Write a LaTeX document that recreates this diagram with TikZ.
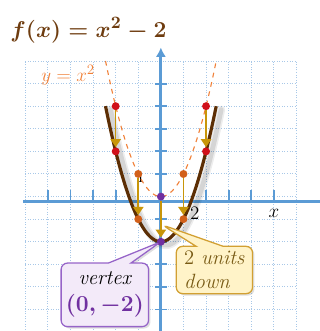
\documentclass[tikz,border=0pt]{standalone}
\usepackage{tikz}
\usetikzlibrary{arrows.meta,shapes.callouts,shadows}
\definecolor{gridblue}{RGB}{168,200,232}
\definecolor{axisblue}{RGB}{91,155,213}
\definecolor{curvebrown}{RGB}{92,46,4}
\definecolor{titlebrown}{RGB}{110,60,15}
\definecolor{dashorange}{RGB}{240,128,56}
\definecolor{dotred}{RGB}{208,16,26}
\definecolor{dotorange}{RGB}{210,96,26}
\definecolor{dotpurple}{RGB}{112,48,160}
\definecolor{shiftgold}{RGB}{200,150,10}
\definecolor{vertexfill}{RGB}{243,234,249}
\definecolor{vertexline}{RGB}{150,100,200}
\definecolor{notefill}{RGB}{255,243,200}
\definecolor{noteline}{RGB}{210,160,50}
\definecolor{notetext}{RGB}{120,90,20}

\begin{document}
\begin{tikzpicture}[
    x=0.5cm, y=0.5cm,
    font=\fontsize{13}{15}\selectfont,
    gridline/.style={draw=gridblue, densely dotted, line width=0.6pt},
    axisline/.style={draw=axisblue, line width=1.8pt},
    axistick/.style={draw=axisblue, line width=1.2pt},
    dot/.style={circle, inner sep=0pt, minimum size=5pt},
    reddot/.style={dot, fill=dotred},
    orangedot/.style={dot, fill=dotorange},
    purpledot/.style={dot, fill=dotpurple},
    downshift/.style={-{Triangle[length=5pt,width=6.5pt]}, draw=shiftgold, line width=1pt},
    curveshadow/.style={draw=black, line cap=round},
    note/.style={rectangle callout, rounded corners=4pt, line width=0.8pt, align=center, inner sep=3pt,
      drop shadow={opacity=0.25, shadow xshift=1.2pt, shadow yshift=-1.2pt}}
  ]
    \useasboundingbox (-7.12,-5.95) rectangle (7.04,8.70);

    % grid and axes
    \draw[gridline, step=0.5cm] (-6,-6) grid (6,6);
    \draw[axisline] (-6.1,-0.2) -- (7.1,-0.2);
    \draw[axisline, -{Latex[length=6pt,width=6.5pt]}] (0,-6.1) -- (0,6.6);
    \foreach \i in {-5,...,-1,1,2,...,5} {
      \draw[axistick] (\i,-0.2) -- (\i,0.3);
      \draw[axistick] (-0.27,\i) -- (0.27,\i);
    }

    \node (xlabel) at (5.0,-0.75) {$x$};
    \node (twolabel) at (1.5,-0.75) {$2$};
    \node[font=\fontsize{10}{12}\selectfont] (onelabel) at (-0.9,0.85) {$1$};

    \node[anchor=base west, text=titlebrown, font=\fontsize{15}{18}\selectfont\boldmath, inner sep=0pt]
      (title) at (-6.67,7.06) {$f(x) = x^2 - 2$};
    \node[text=dashorange, font=\fontsize{12.5}{15}\selectfont] (parentlabel) at (-4.1,5.37) {$y = x^2$};

    % parent parabola and shifted parabola
    \draw[dashorange, dashed, line width=0.7pt] plot[domain=-2.45:2.45, samples=60] (\x,{\x*\x});
    \begin{scope}[shift={(0.22,-0.15)}]
      \draw[curveshadow, line width=5pt, opacity=0.07] plot[domain=-2.45:2.45, samples=60] (\x,{\x*\x-2});
      \draw[curveshadow, line width=3pt, opacity=0.1] plot[domain=-2.45:2.45, samples=60] (\x,{\x*\x-2});
    \end{scope}
    \draw[curvebrown, line width=2pt] plot[domain=-2.45:2.45, samples=60] (\x,{\x*\x-2});

    % points moved down
    \node[reddot] (ltop) at (-2,4) {};
    \node[reddot] (lbot) at (-2,2) {};
    \node[reddot] (rtop) at (2,4) {};
    \node[reddot] (rbot) at (2,2) {};
    \node[orangedot] (lmidtop) at (-1,1) {};
    \node[orangedot] (lmidbot) at (-1,-1) {};
    \node[orangedot] (rmidtop) at (1,1) {};
    \node[orangedot] (rmidbot) at (1,-1) {};
    \node[purpledot] (origin) at (0,0) {};
    \node[purpledot] (vtx) at (0,-2) {};

    \draw[downshift] (ltop) -- (lbot);
    \draw[downshift] (rtop) -- (rbot);
    \draw[downshift] (lmidtop) -- (lmidbot);
    \draw[downshift] (rmidtop) -- (rmidbot);
    \draw[downshift] (origin) -- (vtx);
    \coordinate (shiftmid) at (0.05,-1.25);

    % callouts
    \node[note, fill=vertexfill, draw=vertexline, minimum width=50pt, minimum height=40pt,
      callout absolute pointer={(vtx.center)}, callout pointer width=0.5cm]
      (vertexnote) at (-2.48,-4.35) {\fontsize{13}{15}\selectfont\itshape vertex\\[2pt]
      \textcolor{dotpurple}{\fontsize{14}{15}\selectfont\boldmath$(0,-2)$}};
    \node[note, fill=notefill, draw=noteline, text=notetext, align=left, minimum width=48pt, minimum height=29pt,
      callout absolute pointer={(shiftmid)}, callout pointer width=0.6cm]
      (shiftnote) at (2.37,-3.25) {\fontsize{13}{12.6}\selectfont 2 \textit{units}\\\textit{down}};

  \end{tikzpicture}
\end{document}
